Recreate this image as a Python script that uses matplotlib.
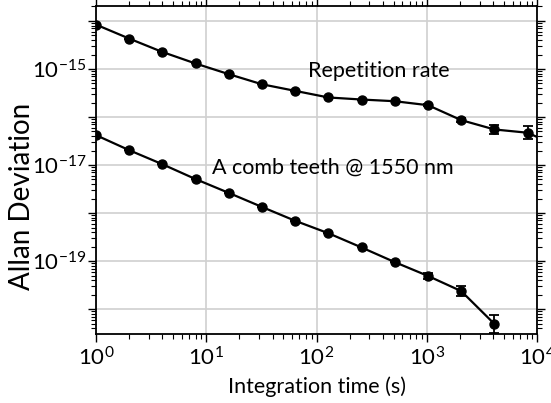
import numpy as np
import matplotlib
matplotlib.use('Agg')
import matplotlib.pyplot as plt
from matplotlib.ticker import FixedLocator, FixedFormatter, NullFormatter

plt.rcParams['font.family'] = ['Lato', 'DejaVu Sans']
plt.rcParams['mathtext.fontset'] = 'custom'
plt.rcParams['mathtext.rm'] = 'Lato'
plt.rcParams['mathtext.it'] = 'Lato'
plt.rcParams['mathtext.default'] = 'regular'

# integration times (s)
tau = [1, 2, 4, 8, 16, 32, 64, 128, 256, 512, 1024, 2048, 4096, 8192, 16384]

# repetition rate Allan deviation
rep_adev = [8.4e-15, 4.3e-15, 2.26e-15, 1.30e-15, 7.8e-16, 4.8e-16, 3.5e-16, 2.55e-16,
            2.31e-16, 2.13e-16, 1.76e-16, 8.6e-17, 5.5e-17, 4.7e-17, 2.3e-17]
rep_err_dec = [0, 0, 0, 0, 0, 0, 0, 0, 0, 0, 0.02, 0.04, 0.09, 0.13, 0]

# comb teeth @ 1550 nm
comb_tau = [1, 2, 4, 8, 16, 32, 64, 128, 256, 512, 1024, 2048, 4096]
comb_adev = [4.2e-17, 2.04e-17, 1.04e-17, 5.1e-18, 2.63e-18, 1.34e-18, 6.9e-19, 3.8e-19,
             1.92e-19, 9.5e-20, 4.9e-20, 2.37e-20, 4.9e-21]
comb_err_dec = [0, 0, 0, 0, 0, 0, 0, 0, 0, 0, 0.06, 0.11, 0.19]

y_ticks = [1e-20, 1e-19, 1e-18, 1e-17, 1e-16, 1e-15, 1e-14]
y_labels = ['', '$10^{-19}$', '', '$10^{-17}$', '', '$10^{-15}$', '']
x_ticks = [1, 10, 100, 1000, 10000]
x_labels = ['$10^{0}$', '$10^{1}$', '$10^{2}$', '$10^{3}$', '$10^{4}$']


def asym_err(vals, dec):
    v = np.array(vals)
    d = np.array(dec)
    return [v - v / 10**d, v * 10**d - v]


def minor_positions(lo, hi):
    return [m * 10.0**e for e in range(lo, hi) for m in range(2, 10)]


fig = plt.figure(figsize=(5.51, 4.03), dpi=100)
ax = fig.add_axes([0.174, 0.171, 0.801, 0.814])

for x, y, e in [(tau, rep_adev, rep_err_dec), (comb_tau, comb_adev, comb_err_dec)]:
    ax.errorbar(x, y, yerr=asym_err(y, e), color='black', lw=1.6, marker='o',
                markersize=6.5, capsize=3.5, elinewidth=1.3, capthick=1.3, zorder=3)

ax.set_xscale('log')
ax.set_yscale('log')
ax.set_xlim(1, 1e4)
ax.set_ylim(10**-20.52, 10**-13.69)

ax.xaxis.set_major_locator(FixedLocator(x_ticks))
ax.xaxis.set_major_formatter(FixedFormatter(x_labels))
ax.yaxis.set_major_locator(FixedLocator(y_ticks))
ax.yaxis.set_major_formatter(FixedFormatter(y_labels))
ax.xaxis.set_minor_locator(FixedLocator(minor_positions(0, 4)))
ax.yaxis.set_minor_locator(FixedLocator(minor_positions(-21, -13)))
ax.xaxis.set_minor_formatter(NullFormatter())
ax.yaxis.set_minor_formatter(NullFormatter())

ax.grid(True, which='major', color='#d0d0d0', lw=1.2, zorder=0)
ax.tick_params(which='both', direction='out', top=True, right=True, color='black')
ax.tick_params(axis='x', labelsize=16, pad=3)
ax.tick_params(axis='y', labelsize=16, pad=1)
ax.tick_params(which='major', length=6, width=1)
ax.tick_params(which='minor', length=3.5, width=0.8)
ax.tick_params(axis='y', which='both', right=True)
for s in ax.spines.values():
    s.set_linewidth(1.3)

ax.set_xlabel('Integration time (s)', fontsize=15.5, labelpad=5)
ax.set_ylabel('Allan Deviation', fontsize=20)
ax.yaxis.set_label_coords(-0.137, 0.42)

ax.text(84, 8.9e-16, 'Repetition rate', fontsize=15.5, va='center', ha='left')
ax.text(11.3, 9.0e-18, 'A comb teeth @ 1550 nm', fontsize=15.5, va='center', ha='left')

fig.savefig('out.png', dpi=100)
